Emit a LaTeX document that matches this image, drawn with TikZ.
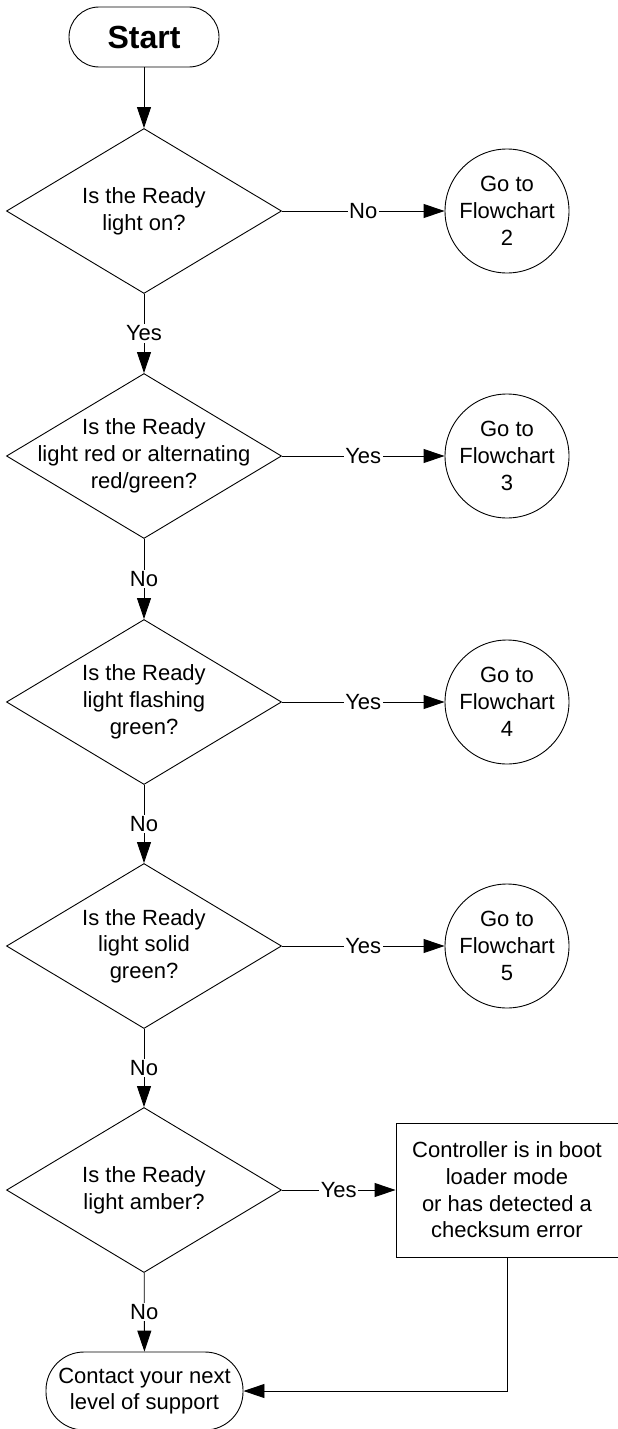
\documentclass[tikz,border=0pt]{standalone}
\usepackage{fontspec}
\setmainfont{Liberation Sans}
\usetikzlibrary{shapes.geometric}
\usetikzlibrary{arrows.meta}

\begin{document}
\begin{tikzpicture}[x=1pt,y=-1pt]

    \useasboundingbox (0,0) rectangle (618,1429);
    \tikzset{every node/.style={font=\fontsize{22}{26.7}\selectfont}}
    \tikzset{terminus/.style={draw, line width=0.9pt, align=center, inner sep=2pt}}
    \tikzset{query/.style={draw, diamond, line width=0.9pt, minimum width=275pt, minimum height=165pt, inner sep=0pt}}
    \tikzset{qtext/.style={align=center, inner sep=0pt}}
    \tikzset{gonoeud/.style={draw, circle, line width=0.9pt, minimum size=124pt, inner sep=0pt, align=center}}
    \tikzset{actbox/.style={draw, line width=0.9pt, minimum width=222pt, minimum height=134pt, align=center}}
    \tikzset{flow/.style={line width=0.9pt, -{Triangle[length=21pt,width=14pt]}}}
    \tikzset{tag/.style={fill=white, inner sep=1.5pt}}

    \node[terminus, rounded corners=30pt, minimum width=150pt, minimum height=60pt,
          font=\fontsize{32}{36}\selectfont\bfseries] (start) at (144,37) {Start};

    \node[query, label={[qtext]center:Is the Ready\\light on?}] (Q1) at (144,211) {};
    \node[query, label={[qtext]center:Is the Ready\\light red or alternating\\red/green?}] (Q2) at (144,456) {};
    \node[query, label={[qtext]center:Is the Ready\\light flashing\\green?}] (Q3) at (144,702) {};
    \node[query, label={[qtext]center:Is the Ready\\light solid\\green?}] (Q4) at (144,946) {};
    \node[query, label={[qtext]center:Is the Ready\\light amber?}] (Q5) at (144,1190) {};

    \node[gonoeud] (F2) at (507,211) {Go to\\Flowchart\\2};
    \node[gonoeud] (F3) at (507,456) {Go to\\Flowchart\\3};
    \node[gonoeud] (F4) at (507,702) {Go to\\Flowchart\\4};
    \node[gonoeud] (F5) at (507,946) {Go to\\Flowchart\\5};

    \node[actbox] (boot) at (507,1190) {Controller is in boot\\loader mode\\or has detected a\\checksum error};

    \node[terminus, rounded corners=38pt, minimum width=197pt, minimum height=78pt] (support) at (144.5,1391)
          {Contact your next\\level of support};

    \draw[flow] (start) -- (Q1);
    \draw[flow] (Q1) -- node[tag] {Yes} (Q2);
    \draw[flow] (Q2) -- node[tag] {No} (Q3);
    \draw[flow] (Q3) -- node[tag] {No} (Q4);
    \draw[flow] (Q4) -- node[tag] {No} (Q5);
    \draw[flow] (Q5) -- node[tag] {No} (support);

    \draw[flow] (Q1) -- node[tag] {No} (F2);
    \draw[flow] (Q2) -- node[tag] {Yes} (F3);
    \draw[flow] (Q3) -- node[tag] {Yes} (F4);
    \draw[flow] (Q4) -- node[tag] {Yes} (F5);
    \draw[flow] (Q5) -- node[tag] {Yes} (boot);

    \draw[flow] (boot.south) |- (support.east);

\end{tikzpicture}
\end{document}
